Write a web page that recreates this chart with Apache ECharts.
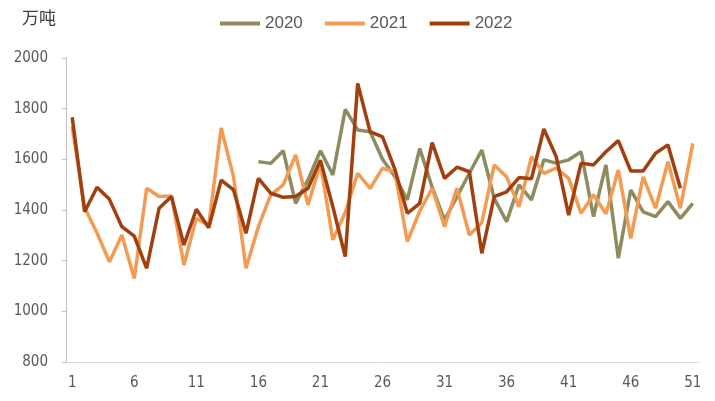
<!DOCTYPE html>
<html>
<head>
<meta charset="utf-8">
<script src="https://cdn.jsdelivr.net/npm/echarts@6/dist/echarts.min.js"></script>
<style>
html,body{margin:0;padding:0;background:#fff;}
#c{width:715px;height:401px;}
</style>
</head>
<body>
<div id="c"></div>
<script>
var weeks = [];
for (var w = 1; w <= 51; w++) weeks.push(String(w));

var s2020 = [null,null,null,null,null,null,null,null,null,null,null,null,null,null,null,
  1591,1584,1634,1426,1520,1634,1538,1797,1716,1709,1600,1531,1440,1643,1490,
  1360,1453,1545,1637,1446,1354,1499,1440,1598,1585,1598,1630,1374,1578,1210,
  1479,1393,1374,1433,1367,1426];
var s2021 = [1730,1410,1309,1196,1301,1130,1486,1453,1455,1183,
  1367,1340,1724,1531,1170,1334,1460,1499,1617,1420,
  1584,1282,1390,1545,1485,1565,1551,1275,1395,1486,
  1334,1486,1301,1350,1578,1531,1413,1610,1545,1565,
  1525,1387,1460,1385,1558,1288,1531,1407,1591,1407,1663];
var s2022 = [1766,1393,1490,1442,1334,1297,1170,1407,1453,1262,
  1403,1330,1518,1479,1308,1525,1466,1450,1453,1486,
  1597,1413,1216,1900,1709,1689,1560,1387,1426,1666,
  1525,1569,1551,1229,1453,1472,1528,1523,1720,1610,
  1380,1585,1578,1630,1674,1554,1554,1624,1657,1486];
var seriesNames = ['2020','2021','2022'];
var seriesColors = ['#8E8B5E','#F39B52','#A23F0E'];
var yTicks = {min:800, max:2000, step:200};
var unitLabel = '万吨';

var chart = echarts.init(document.getElementById('c'));
var font = '"Liberation Sans Narrow","DejaVu Sans Condensed","Liberation Sans",sans-serif';
var data = [s2020, s2021, s2022];
chart.setOption({
  animation:false,
  backgroundColor:'#fff',
  graphic:[{type:'text', left:22, top:9, style:{text:unitLabel, fontSize:17, fill:'#404040', fontFamily:'"Noto Sans CJK SC",sans-serif'}}],
  legend:{
    data:seriesNames, top:10, left:215, icon:'rect', itemWidth:40, itemHeight:4, itemGap:22,
    textStyle:{fontSize:17, color:'#595959', fontFamily:'"Liberation Sans",Arial,sans-serif'}
  },
  grid:{left:66, right:16, top:58, bottom:39, containLabel:false},
  xAxis:{
    type:'category', data:weeks, boundaryGap:true,
    axisLine:{lineStyle:{color:'#d9d9d9', width:1}},
    axisTick:{interval:4, length:5, lineStyle:{color:'#d9d9d9'}},
    axisLabel:{interval:4, margin:14, fontSize:15, color:'#595959', fontFamily:font},
    splitLine:{show:false}
  },
  yAxis:{
    type:'value', min:yTicks.min, max:yTicks.max, interval:yTicks.step,
    axisLine:{show:true, lineStyle:{color:'#bfbfbf', width:1}},
    axisTick:{show:true, length:4, lineStyle:{color:'#bfbfbf'}},
    axisLabel:{margin:18, fontSize:15, color:'#595959', fontFamily:font,
      formatter:function(v){return String(v);}},
    splitLine:{show:false}
  },
  series: seriesNames.map(function(n,i){
    return {name:n, type:'line', data:data[i], symbol:'none', connectNulls:false,
      lineStyle:{width:3.5, color:seriesColors[i]}, itemStyle:{color:seriesColors[i]}};
  })
});
</script>
</body>
</html>
